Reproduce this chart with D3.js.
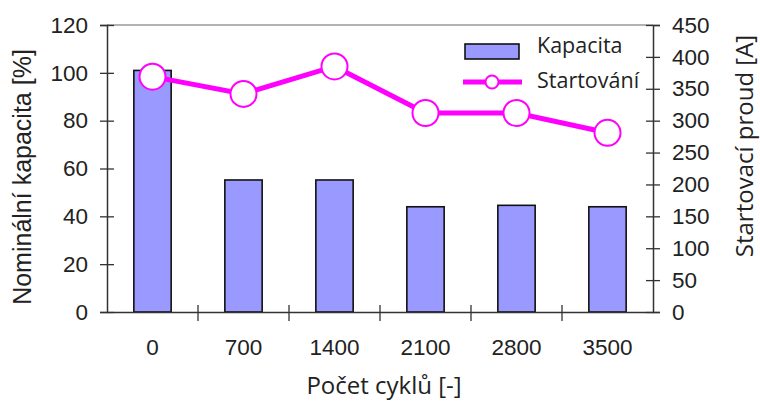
<!DOCTYPE html>
<html><head><meta charset="utf-8">
<script src="https://cdn.jsdelivr.net/npm/d3@7"></script>
<style>
body{margin:0;background:#fff;}
svg{display:block;}
</style></head><body>
<svg id="c" width="760" height="403"></svg>
<script>
const categories = ["0","700","1400","2100","2800","3500"];
const kapacita = [101, 55.2, 55.2, 44, 44.6, 44];
const startovani = [369, 342, 385, 312, 312, 281];
const leftTicks = [0,20,40,60,80,100,120];
const rightTicks = [0,50,100,150,200,250,300,350,400,450];

const svg = d3.select("#c");
const L=107, R=653, T=25, B=312;
const x = d3.scaleBand().domain(categories).range([L,R]).paddingInner(0.59).paddingOuter(0.295);
const yL = d3.scaleLinear().domain([0,120]).range([B,T]);
const yR = d3.scaleLinear().domain([0,450]).range([B,T]);
const axisColor="#333";
const tickFont="'Liberation Sans', Arial, sans-serif";
const titleFont="'Open Sans', 'Noto Sans', sans-serif";
const tickSize=22.5;

// top frame line
svg.append("line").attr("x1",L).attr("x2",R).attr("y1",T).attr("y2",T).attr("stroke","#666").attr("stroke-width",1.2);

// bars
svg.append("g").selectAll("rect").data(categories).join("rect")
  .attr("x",d=>x(d)).attr("width",x.bandwidth())
  .attr("y",(d,i)=>yL(kapacita[i])).attr("height",(d,i)=>B-yL(kapacita[i]))
  .attr("fill","#9999ff").attr("stroke","#111").attr("stroke-width",1.6);

// left axis
const gL = svg.append("g").attr("transform",`translate(${L},0)`)
  .call(d3.axisLeft(yL).tickValues(leftTicks).tickSize(7).tickPadding(12));
gL.select(".domain").attr("stroke",axisColor).attr("stroke-width",1.5);
gL.selectAll(".tick line").attr("x1",-7).attr("x2",7).attr("stroke",axisColor).attr("stroke-width",1.3);
gL.selectAll(".tick text").attr("font-family",tickFont).attr("font-size",tickSize).attr("fill","#222");

// right axis
const gR = svg.append("g").attr("transform",`translate(${R},0)`)
  .call(d3.axisRight(yR).tickValues(rightTicks).tickSize(7).tickPadding(12));
gR.select(".domain").attr("stroke",axisColor).attr("stroke-width",1.5);
gR.selectAll(".tick line").attr("x1",-7).attr("x2",7).attr("stroke",axisColor).attr("stroke-width",1.3);
gR.selectAll(".tick text").attr("font-family",tickFont).attr("font-size",tickSize).attr("fill","#222");

// bottom axis
const gB = svg.append("g").attr("transform",`translate(0,${B})`)
  .call(d3.axisBottom(x).tickSize(0).tickPadding(27));
gB.select(".domain").attr("stroke",axisColor).attr("stroke-width",1.5);
gB.selectAll(".tick text").attr("font-family",tickFont).attr("font-size",tickSize).attr("fill","#222");
const step = x.step();
const bounds = categories.slice(1).map(c => x(c) - (step - x.bandwidth())/2);
gB.selectAll(".sep").data(bounds).join("line").attr("class","sep")
  .attr("x1",d=>d).attr("x2",d=>d).attr("y1",-7).attr("y2",9)
  .attr("stroke",axisColor).attr("stroke-width",1.3);

// line
const cx = d=>x(d)+x.bandwidth()/2;
const line = d3.line().x((d,i)=>cx(categories[i])).y(d=>yR(d));
svg.append("path").datum(startovani).attr("d",line)
  .attr("fill","none").attr("stroke","#ff00ff").attr("stroke-width",5);
svg.append("g").selectAll("circle").data(startovani).join("circle")
  .attr("cx",(d,i)=>cx(categories[i])).attr("cy",d=>yR(d)).attr("r",13)
  .attr("fill","#fff").attr("stroke","#ff00ff").attr("stroke-width",2);

// legend
const lg = svg.append("g");
lg.append("rect").attr("x",465).attr("y",44).attr("width",54).attr("height",15)
  .attr("fill","#9999ff").attr("stroke","#111").attr("stroke-width",1.6);
lg.append("text").attr("x",537).attr("y",53).text("Kapacita")
  .attr("font-family",titleFont).attr("font-size",21.5).attr("fill","#222");
lg.append("line").attr("x1",463).attr("x2",522).attr("y1",82).attr("y2",82)
  .attr("stroke","#ff00ff").attr("stroke-width",5);
lg.append("circle").attr("cx",492).attr("cy",82).attr("r",6.5)
  .attr("fill","#fff").attr("stroke","#ff00ff").attr("stroke-width",2);
lg.append("text").attr("x",537).attr("y",88).text("Startování")
  .attr("font-family",titleFont).attr("font-size",21.5).attr("fill","#222");

// titles
svg.append("text").attr("transform","translate(31,177) rotate(-90)").attr("text-anchor","middle")
  .attr("font-family",tickFont).attr("font-size",25).attr("fill","#222").text("Nominální kapacita [%]");
svg.append("text").attr("transform","translate(753,146) rotate(-90)").attr("text-anchor","middle")
  .attr("font-family",titleFont).attr("font-size",24).attr("fill","#222").text("Startovací proud [A]");
svg.append("text").attr("x",384).attr("y",394).attr("text-anchor","middle")
  .attr("font-family",titleFont).attr("font-size",24).attr("fill","#222").text("Počet cyklů [-]");
</script>
</body></html>
